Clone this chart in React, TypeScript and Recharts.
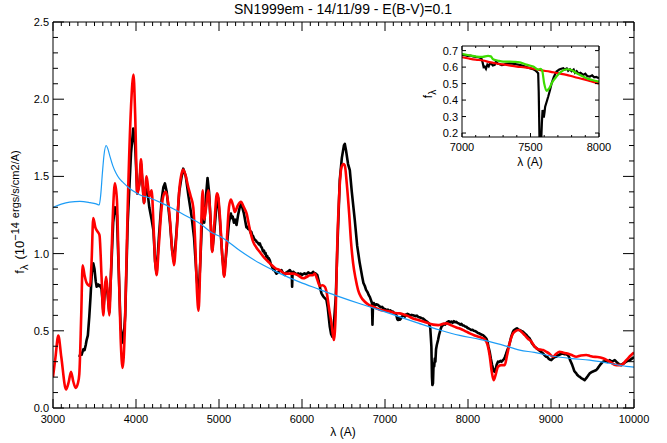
import React from 'react';
import { LineChart, Line, XAxis, YAxis } from 'recharts';

const FONT = '"Liberation Sans", Arial, Helvetica, sans-serif';

// observed spectrum (black)
const obsWave = [
  3317, 3330, 3345, 3365, 3380, 3395, 3405, 3420, 3437, 3452, 3465, 3478, 3485, 3500, 3515, 3526, 3545, 3556, 3566, 3585,
  3606, 3625, 3640, 3660, 3678, 3700, 3725, 3746, 3770, 3790, 3815, 3847, 3870, 3900, 3940, 3967, 3990, 4015, 4040, 4060,
  4080, 4096, 4128, 4160, 4188, 4210, 4230, 4248, 4275, 4309, 4330, 4348, 4370, 4390, 4409, 4435, 4457, 4485, 4521, 4550,
  4569, 4600, 4630, 4670, 4700, 4730, 4754, 4775, 4802, 4822, 4845, 4862, 4880, 4900, 4918, 4945, 4975, 4990, 5010, 5040,
  5062, 5090, 5120, 5143, 5155, 5165, 5180, 5195, 5211, 5230, 5250, 5264, 5280, 5290, 5300, 5310, 5320, 5330, 5340, 5350,
  5362, 5372, 5382, 5390, 5400, 5410, 5420, 5432, 5445, 5455, 5470, 5480, 5492, 5505, 5515, 5530, 5542, 5550, 5560, 5570,
  5580, 5590, 5600, 5613, 5625, 5640, 5653, 5663, 5675, 5693, 5705, 5720, 5735, 5753, 5765, 5775, 5793, 5805, 5820, 5835,
  5853, 5865, 5876, 5881, 5886, 5895, 5910, 5925, 5940, 5955, 5970, 5985, 6000, 6015, 6030, 6045, 6060, 6075, 6090, 6110,
  6125, 6134, 6148, 6160, 6175, 6185, 6198, 6210, 6222, 6235, 6248, 6260, 6278, 6295, 6310, 6320, 6335, 6350, 6367, 6385,
  6407, 6430, 6455, 6480, 6505, 6516, 6530, 6555, 6576, 6600, 6636, 6665, 6696, 6725, 6740, 6757, 6772, 6790, 6805, 6817,
  6830, 6843, 6849, 6855, 6865, 6880, 6895, 6917, 6930, 6950, 6965, 6980, 7000, 7018, 7035, 7050, 7065, 7080, 7095, 7110,
  7125, 7138, 7148, 7158, 7168, 7178, 7190, 7200, 7215, 7230, 7240, 7250, 7258, 7270, 7290, 7305, 7320, 7338, 7355, 7370,
  7385, 7400, 7415, 7430, 7445, 7458, 7475, 7490, 7510, 7530, 7545, 7552, 7559, 7566, 7571, 7578, 7583, 7587, 7593, 7600,
  7607, 7615, 7625, 7639, 7650, 7660, 7670, 7680, 7695, 7710, 7725, 7740, 7755, 7770, 7785, 7800, 7815, 7830, 7845, 7860,
  7875, 7890, 7905, 7920, 7935, 7950, 7965, 7980, 7995, 8010, 8025, 8040, 8055, 8070, 8085, 8101, 8120, 8140, 8160, 8181,
  8200, 8221, 8235, 8245, 8261, 8275, 8290, 8305, 8318, 8330, 8345, 8361, 8375, 8390, 8405, 8421, 8435, 8445, 8458, 8470,
  8485, 8502, 8520, 8542, 8555, 8570, 8590, 8605, 8620, 8640, 8662, 8680, 8700, 8720, 8743, 8758, 8770, 8785, 8803, 8820,
  8840, 8860, 8883, 8897, 8910, 8925, 8943, 8956, 8970, 8985, 9003, 9018, 9030, 9045, 9064, 9080, 9100, 9120, 9144, 9160,
  9175, 9190, 9204, 9218, 9230, 9243, 9256, 9268, 9280, 9292, 9305, 9315, 9325, 9335, 9345, 9360, 9375, 9390, 9405, 9420,
  9435, 9450, 9466, 9482, 9500, 9520, 9546, 9560, 9580, 9600, 9626, 9643, 9660, 9683, 9706, 9728, 9750, 9768, 9786, 9800,
  9820, 9835, 9846, 9862, 9880, 9893, 9907, 9925, 9950, 9975, 10000,
];
const obsFlux = [
  0.33, 0.35, 0.345, 0.38, 0.375, 0.41, 0.44, 0.47, 0.59, 0.72, 0.85, 0.93, 0.937, 0.9, 0.82, 0.785, 0.8, 0.79, 0.796, 0.77,
  0.63, 0.76, 0.82, 0.73, 0.62, 0.88, 1.2, 1.3, 1.25, 0.92, 0.52, 0.42, 0.6, 1.2, 1.65, 1.81, 1.7, 1.39, 1.45, 1.58,
  1.45, 1.33, 1.45, 1.3, 1.22, 1.15, 0.95, 0.87, 1.1, 1.35, 1.43, 1.455, 1.4, 1.3, 1.2, 1.02, 0.95, 1.12, 1.4, 1.5,
  1.55, 1.5, 1.38, 1.24, 1.1, 0.85, 0.72, 0.95, 1.3, 1.2, 1.38, 1.49, 1.4, 1.2, 1.02, 1.15, 1.35, 1.36, 1.22, 0.98,
  0.86, 1.02, 1.2, 1.26, 1.23, 1.24, 1.2, 1.22, 1.185, 1.25, 1.3, 1.32, 1.3, 1.28, 1.26, 1.23, 1.2, 1.17, 1.175, 1.16,
  1.165, 1.15, 1.135, 1.14, 1.12, 1.115, 1.1, 1.09, 1.085, 1.075, 1.07, 1.06, 1.066, 1.045, 1.04, 1.015, 1.02, 1.0, 1.005, 0.98,
  0.985, 0.965, 0.97, 0.955, 0.93, 0.915, 0.895, 0.9, 0.885, 0.87, 0.878, 0.88, 0.888, 0.893, 0.88, 0.875, 0.862, 0.875, 0.88, 0.886,
  0.893, 0.884, 0.88, 0.785, 0.87, 0.882, 0.875, 0.87, 0.866, 0.872, 0.865, 0.87, 0.862, 0.868, 0.872, 0.866, 0.87, 0.878, 0.874, 0.868,
  0.876, 0.882, 0.874, 0.872, 0.866, 0.86, 0.83, 0.8, 0.77, 0.742, 0.73, 0.72, 0.71, 0.7, 0.65, 0.6, 0.526, 0.48, 0.46, 0.55,
  0.72, 1.1, 1.476, 1.62, 1.7, 1.71, 1.67, 1.58, 1.54, 1.4, 1.217, 1.05, 0.937, 0.85, 0.81, 0.79, 0.765, 0.75, 0.73, 0.72,
  0.7, 0.68, 0.54, 0.66, 0.68, 0.665, 0.672, 0.667, 0.66, 0.652, 0.655, 0.645, 0.64, 0.634, 0.637, 0.628, 0.632, 0.622, 0.625, 0.615,
  0.612, 0.6, 0.575, 0.57, 0.585, 0.572, 0.578, 0.59, 0.598, 0.6, 0.592, 0.605, 0.6, 0.61, 0.604, 0.6, 0.603, 0.6, 0.597, 0.594,
  0.598, 0.59, 0.588, 0.585, 0.582, 0.58, 0.572, 0.565, 0.558, 0.548, 0.52, 0.46, 0.397, 0.2, 0.149, 0.16, 0.25, 0.289, 0.27, 0.32,
  0.3, 0.38, 0.41, 0.44, 0.47, 0.49, 0.51, 0.526, 0.535, 0.545, 0.54, 0.552, 0.558, 0.562, 0.555, 0.56, 0.552, 0.562, 0.555, 0.558,
  0.55, 0.548, 0.54, 0.545, 0.535, 0.534, 0.528, 0.526, 0.518, 0.515, 0.51, 0.505, 0.506, 0.5, 0.498, 0.494, 0.486, 0.482, 0.476, 0.472,
  0.462, 0.45, 0.43, 0.4, 0.364, 0.32, 0.28, 0.25, 0.235, 0.24, 0.28, 0.3, 0.298, 0.305, 0.3, 0.31, 0.318, 0.33, 0.35, 0.37,
  0.39, 0.42, 0.46, 0.494, 0.505, 0.51, 0.516, 0.51, 0.505, 0.5, 0.494, 0.485, 0.475, 0.462, 0.45, 0.435, 0.42, 0.41, 0.397, 0.39,
  0.38, 0.372, 0.364, 0.356, 0.35, 0.34, 0.332, 0.33, 0.32, 0.314, 0.31, 0.318, 0.325, 0.33, 0.332, 0.34, 0.345, 0.35, 0.354, 0.348,
  0.35, 0.346, 0.343, 0.33, 0.31, 0.295, 0.278, 0.26, 0.24, 0.232, 0.224, 0.215, 0.21, 0.205, 0.203, 0.195, 0.19, 0.186, 0.18, 0.19,
  0.2, 0.212, 0.224, 0.23, 0.235, 0.24, 0.246, 0.255, 0.27, 0.285, 0.3, 0.302, 0.305, 0.3, 0.31, 0.302, 0.305, 0.31, 0.3, 0.292,
  0.285, 0.28, 0.278, 0.285, 0.29, 0.296, 0.3, 0.305, 0.31, 0.32, 0.33,
];

// synthetic spectrum (red)
const modelWave = [
  3000, 3030, 3064, 3100, 3157, 3190, 3217, 3245, 3273, 3300, 3317, 3340, 3357, 3380, 3405, 3445, 3465, 3485, 3510, 3540,
  3560, 3585, 3606, 3625, 3640, 3660, 3678, 3700, 3725, 3746, 3770, 3790, 3815, 3839, 3865, 3900, 3940, 3970, 3990, 4015,
  4040, 4060, 4080, 4096, 4128, 4160, 4188, 4210, 4230, 4248, 4275, 4309, 4340, 4360, 4390, 4409, 4435, 4457, 4485, 4521,
  4550, 4569, 4600, 4630, 4660, 4690, 4715, 4735, 4754, 4775, 4802, 4822, 4845, 4870, 4895, 4918, 4945, 4975, 4990, 5010,
  5040, 5062, 5090, 5120, 5143, 5170, 5191, 5225, 5264, 5300, 5332, 5370, 5412, 5450, 5492, 5550, 5613, 5680, 5733, 5793,
  5850, 5893, 5950, 6014, 6060, 6094, 6130, 6154, 6185, 6215, 6245, 6275, 6300, 6330, 6355, 6383, 6405, 6424, 6450, 6476,
  6500, 6516, 6540, 6568, 6590, 6616, 6645, 6676, 6710, 6757, 6800, 6857, 6900, 6937, 7000, 7060, 7120, 7178, 7218, 7280,
  7338, 7400, 7460, 7519, 7580, 7640, 7700, 7740, 7800, 7860, 7900, 7960, 8021, 8080, 8141, 8201, 8235, 8261, 8285, 8309,
  8335, 8361, 8401, 8442, 8470, 8502, 8530, 8562, 8614, 8650, 8683, 8720, 8763, 8800, 8824, 8870, 8903, 8940, 8976, 9024,
  9060, 9104, 9150, 9185, 9240, 9305, 9360, 9425, 9470, 9505, 9560, 9626, 9706, 9786, 9846, 9907, 9960, 10000,
];
const modelFlux = [
  0.2, 0.33, 0.47, 0.33, 0.12, 0.17, 0.235, 0.17, 0.13, 0.16, 0.22, 0.6, 0.925, 0.86, 0.81, 0.79, 0.95, 1.23, 1.17, 1.14,
  1.12, 0.85, 0.6, 0.78, 0.85, 0.74, 0.6, 0.9, 1.3, 1.455, 1.35, 0.95, 0.45, 0.26, 0.5, 1.3, 1.95, 2.16, 1.9, 1.39,
  1.45, 1.61, 1.45, 1.325, 1.5, 1.37, 1.41, 1.2, 0.95, 0.86, 1.05, 1.3, 1.39, 1.4, 1.32, 1.22, 1.03, 0.925, 1.1, 1.41,
  1.52, 1.545, 1.5, 1.43, 1.37, 1.3, 1.05, 0.75, 0.63, 0.95, 1.41, 1.22, 1.3, 1.41, 1.25, 1.01, 1.2, 1.39, 1.37, 1.25,
  0.98, 0.85, 1.05, 1.3, 1.35, 1.31, 1.27, 1.31, 1.335, 1.3, 1.26, 1.16, 1.076, 1.04, 1.01, 0.97, 0.937, 0.905, 0.893, 0.87,
  0.87, 0.87, 0.86, 0.84, 0.85, 0.86, 0.86, 0.87, 0.83, 0.79, 0.795, 0.785, 0.74, 0.63, 0.55, 0.44, 0.6, 1.04, 1.4, 1.56,
  1.58, 1.57, 1.45, 1.26, 1.08, 0.937, 0.84, 0.764, 0.72, 0.688, 0.67, 0.656, 0.645, 0.636, 0.63, 0.625, 0.615, 0.613, 0.607, 0.595,
  0.58, 0.57, 0.56, 0.55, 0.54, 0.537, 0.545, 0.548, 0.535, 0.522, 0.515, 0.5, 0.483, 0.47, 0.46, 0.445, 0.41, 0.34, 0.24, 0.18,
  0.22, 0.267, 0.278, 0.278, 0.34, 0.42, 0.47, 0.494, 0.505, 0.49, 0.472, 0.45, 0.43, 0.4, 0.386, 0.378, 0.375, 0.365, 0.354, 0.332,
  0.35, 0.364, 0.358, 0.354, 0.345, 0.332, 0.34, 0.343, 0.337, 0.332, 0.33, 0.322, 0.3, 0.278, 0.278, 0.31, 0.34, 0.36,
];

// blackbody continuum (blue)
const bbWave = [
  3000, 3100, 3200, 3325, 3445, 3520, 3557, 3575, 3595, 3615, 3640, 3660, 3686, 3720, 3760, 3800, 3847, 3906, 3967, 4050,
  4168, 4300, 4448, 4600, 4770, 4900, 5050, 5250, 5492, 5700, 5974, 6200, 6455, 6700, 6937, 7178, 7400, 7660, 7900, 8141,
  8400, 8623, 8800, 9024, 9250, 9466, 9700, 9907, 10000,
];
const bbFlux = [
  1.3, 1.32, 1.333, 1.338, 1.33, 1.322, 1.315, 1.38, 1.52, 1.64, 1.7, 1.68, 1.63, 1.57, 1.52, 1.485, 1.46, 1.43, 1.405, 1.38,
  1.36, 1.33, 1.29, 1.245, 1.195, 1.14, 1.1, 1.02, 0.937, 0.88, 0.815, 0.77, 0.72, 0.675, 0.634, 0.59, 0.55, 0.505, 0.47, 0.445,
  0.41, 0.375, 0.36, 0.335, 0.32, 0.31, 0.29, 0.27, 0.265,
];

// inset, 7000-8000 A
const insetObsWave = [
  7000, 7020, 7040, 7060, 7080, 7100, 7120, 7141, 7150, 7158, 7166, 7175, 7185, 7195, 7205, 7215, 7225, 7239, 7248, 7260,
  7275, 7290, 7300, 7320, 7349, 7380, 7410, 7440, 7470, 7500, 7520, 7535, 7544, 7556, 7560, 7563, 7566, 7578, 7583, 7588,
  7593, 7598, 7603, 7607, 7618, 7629, 7642, 7654, 7670, 7690, 7710, 7725, 7739, 7750, 7765, 7775, 7788, 7800, 7815, 7825,
  7837, 7850, 7865, 7885, 7900, 7915, 7934, 7950, 7965, 7980, 8000,
];
const insetObsFlux = [
  0.674, 0.672, 0.668, 0.67, 0.665, 0.662, 0.66, 0.654, 0.63, 0.6, 0.603, 0.59, 0.615, 0.605, 0.625, 0.62, 0.61, 0.613, 0.635, 0.622,
  0.618, 0.612, 0.613, 0.62, 0.623, 0.62, 0.615, 0.61, 0.6, 0.592, 0.587, 0.58, 0.573, 0.563, 0.45, 0.3, 0.15, 0.15, 0.26, 0.34,
  0.3, 0.3, 0.33, 0.36, 0.39, 0.42, 0.46, 0.5, 0.54, 0.573, 0.585, 0.59, 0.593, 0.585, 0.592, 0.578, 0.587, 0.575, 0.585, 0.565,
  0.575, 0.56, 0.565, 0.553, 0.56, 0.545, 0.543, 0.55, 0.538, 0.54, 0.533,
];
const insetModelWave = [7000, 7050, 7100, 7154, 7200, 7250, 7324, 7400, 7460, 7520, 7580, 7641, 7700, 7763, 7820, 7885, 7940, 8000];
const insetModelFlux = [0.66, 0.652, 0.645, 0.64, 0.63, 0.622, 0.613, 0.603, 0.598, 0.59, 0.58, 0.573, 0.563, 0.553, 0.54, 0.527, 0.514, 0.5];
const insetAltWave = [
  7000, 7050, 7105, 7150, 7190, 7210, 7227, 7260, 7300, 7349, 7380, 7422, 7470, 7520, 7556, 7572, 7585, 7600, 7617, 7635,
  7660, 7690, 7720, 7763, 7790, 7837, 7880, 7910, 7950, 8000,
];
const insetAltFlux = [
  0.68, 0.672, 0.664, 0.662, 0.668, 0.665, 0.648, 0.64, 0.633, 0.633, 0.632, 0.629, 0.615, 0.603, 0.585, 0.59, 0.58, 0.5, 0.456, 0.47,
  0.51, 0.543, 0.57, 0.587, 0.585, 0.563, 0.545, 0.532, 0.522, 0.512,
];

const xTicks = Array.from({ length: 71 }, (_, i) => 3000 + i * 100);
const yTicks = Array.from({ length: 26 }, (_, i) => i / 10);
const insetXTicks = Array.from({ length: 11 }, (_, i) => 7000 + i * 100);
const insetYTicks = [0.2, 0.3, 0.4, 0.5, 0.6, 0.7];

const toPts = (w: number[], f: number[]) => w.map((x, i) => ({ x, y: f[i] }));

const isMajor = (v: number, step: number) => Math.abs(v / step - Math.round(v / step)) < 1e-6;

const txt = (size: number) => ({ fontSize: size, fontFamily: FONT, fill: '#000' });

// inward-pointing IDL style ticks
const xTick = (side: 'bottom' | 'top', step: number, big: number, small: number, labels: boolean, size = 11, dy = 15) => (p: any) => {
  const v = p.payload.value;
  const major = isMajor(v, step);
  const d = side === 'bottom' ? -1 : 1;
  return (
    <g>
      <line x1={p.x} x2={p.x} y1={p.y} y2={p.y + d * (major ? big : small)} stroke="#000" />
      {labels && major && (
        <text x={p.x} y={p.y + dy} textAnchor="middle" {...txt(size)}>{v}</text>
      )}
    </g>
  );
};

const yTick = (side: 'left' | 'right', step: number, big: number, small: number, labels: boolean, size = 11) => (p: any) => {
  const v = p.payload.value;
  const major = isMajor(v, step);
  const d = side === 'left' ? 1 : -1;
  return (
    <g>
      <line x1={p.x} x2={p.x + d * (major ? big : small)} y1={p.y} y2={p.y} stroke="#000" />
      {labels && major && (
        <text x={p.x - 4} y={p.y + 4} textAnchor="end" {...txt(size)}>{v.toFixed(1)}</text>
      )}
    </g>
  );
};

const axisCommon = { tickLine: false, tickSize: 0, tickMargin: 0, interval: 0 as const, axisLine: { stroke: '#000' }, allowDataOverflow: true };

export default function App() {
  return (
    <div style={{ position: 'absolute', left: 0, top: 0, width: 667, height: 443, background: '#fff' }}>
      <div style={{ position: 'absolute', left: 0, top: 0 }}>
        <LineChart width={667} height={443} margin={{ top: 21, right: 32, bottom: 0, left: 0 }}>
          <XAxis xAxisId="b" type="number" dataKey="x" domain={[3000, 10000]} ticks={xTicks} orientation="bottom" height={35}
            tick={xTick('bottom', 1000, 9, 4, true)} {...axisCommon} />
          <XAxis xAxisId="t" type="number" dataKey="x" domain={[3000, 10000]} ticks={xTicks} orientation="top" height={1}
            tick={xTick('top', 1000, 9, 4, false)} {...axisCommon} />
          <YAxis yAxisId="l" type="number" domain={[0, 2.5]} ticks={yTicks} width={53}
            tick={yTick('left', 0.5, 11, 5, true)} {...axisCommon} />
          <YAxis yAxisId="r" type="number" domain={[0, 2.5]} ticks={yTicks} width={1} orientation="right"
            tick={yTick('right', 0.5, 11, 5, false)} {...axisCommon} />
          <Line xAxisId="b" yAxisId="l" data={toPts(obsWave, obsFlux)} dataKey="y" stroke="#000" strokeWidth={2.6}
            dot={false} isAnimationActive={false} strokeLinejoin="round" />
          <Line xAxisId="b" yAxisId="l" data={toPts(modelWave, modelFlux)} dataKey="y" type="monotone" stroke="#ff0000" strokeWidth={2.6}
            dot={false} isAnimationActive={false} />
          <Line xAxisId="b" yAxisId="l" data={toPts(bbWave, bbFlux)} dataKey="y" type="monotone" stroke="#1c9cf6" strokeWidth={1.2}
            dot={false} isAnimationActive={false} />
        </LineChart>
      </div>
      <div style={{ position: 'absolute', left: 0, top: 0 }}>
        <LineChart width={667} height={443} margin={{ top: 45, right: 67, bottom: 0, left: 0 }}>
          <XAxis xAxisId="b" type="number" dataKey="x" domain={[7000, 8000]} ticks={insetXTicks} orientation="bottom" height={306}
            tick={xTick('bottom', 500, 4, 2, true, 11, 14)} {...axisCommon} />
          <XAxis xAxisId="t" type="number" dataKey="x" domain={[7000, 8000]} ticks={insetXTicks} orientation="top" height={1}
            tick={xTick('top', 500, 4, 2, false)} {...axisCommon} />
          <YAxis yAxisId="l" type="number" domain={[0.176, 0.728]} ticks={insetYTicks} width={462}
            tick={yTick('left', 0.1, 4, 2, true)} {...axisCommon} />
          <YAxis yAxisId="r" type="number" domain={[0.176, 0.728]} ticks={insetYTicks} width={1} orientation="right"
            tick={yTick('right', 0.1, 4, 2, false)} {...axisCommon} />
          <Line xAxisId="b" yAxisId="l" data={toPts(insetObsWave, insetObsFlux)} dataKey="y" stroke="#000" strokeWidth={2.2}
            dot={false} isAnimationActive={false} />
          <Line xAxisId="b" yAxisId="l" data={toPts(insetModelWave, insetModelFlux)} dataKey="y" type="monotone" stroke="#ff0000" strokeWidth={2.2}
            dot={false} isAnimationActive={false} />
          <Line xAxisId="b" yAxisId="l" data={toPts(insetAltWave, insetAltFlux)} dataKey="y" type="monotone" stroke="#3cdc00" strokeWidth={2.2}
            dot={false} isAnimationActive={false} />
        </LineChart>
      </div>
      <svg width={667} height={443} style={{ position: 'absolute', left: 0, top: 0, pointerEvents: 'none' }}>
        <text x={343} y={14} textAnchor="middle" {...txt(14)}>SN1999em - 14/11/99 - E(B-V)=0.1</text>
        <text x={343} y={436} textAnchor="middle" {...txt(12)}>λ (A)</text>
        <text x={24} y={212} textAnchor="middle" transform="rotate(-90 24 212)" {...txt(13)}>
          f<tspan dy={4} fontSize={11}>λ</tspan>
          <tspan dy={-4} dx={5}>(10</tspan>
          <tspan dy={-5} fontSize={11}>−14</tspan>
          <tspan dx={4} fontSize={11}>ergs/s/cm2/A)</tspan>
        </text>
        <text x={530} y={166} textAnchor="middle" {...txt(12)}>λ (A)</text>
        <text x={432} y={94} textAnchor="middle" transform="rotate(-90 432 94)" {...txt(12)}>
          f<tspan dy={4} fontSize={10}>λ</tspan>
        </text>
      </svg>
    </div>
  );
}
